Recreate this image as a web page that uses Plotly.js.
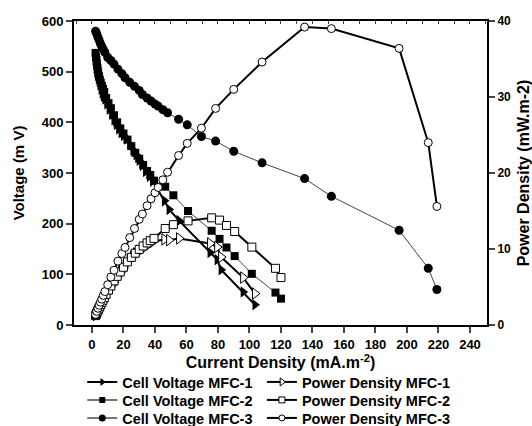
<!DOCTYPE html>
<html><head><meta charset="utf-8">
<script src="https://cdn.plot.ly/plotly-3.0.1.min.js"></script>
<style>html,body{margin:0;padding:0;background:#fff}#chart{width:532px;height:426px}</style>
</head><body><div id="chart"></div>
<script>
// MFC-1
const x1 = [2.5, 2.8, 3.1, 3.4, 3.8, 4.2, 4.7, 5.2, 5.8, 6.5, 7.2, 8.2, 9.5, 11, 12.5, 14, 15.5, 17, 18.5, 20, 22, 24, 26, 28, 30, 32, 34, 36.5, 38.5, 46, 49, 55.3, 75, 79.5, 82, 96, 103.5];
const v1 = [530, 522, 514, 506, 498, 490, 482, 474, 466, 458, 452, 446, 436, 426, 416, 405, 396, 387, 380, 374, 367, 357, 346, 336, 325, 315, 303, 293, 284, 245, 228, 206, 143, 129, 109, 65, 40];
const p1 = [1.33, 1.46, 1.59, 1.72, 1.89, 2.06, 2.27, 2.46, 2.7, 2.98, 3.25, 3.66, 4.14, 4.69, 5.2, 5.67, 6.14, 6.58, 7.03, 7.48, 8.07, 8.57, 9.0, 9.41, 9.75, 10.08, 10.3, 10.69, 10.93, 11.27, 11.17, 11.39, 10.73, 10.26, 8.94, 6.24, 4.14];
// MFC-2
const x2 = [2.3, 2.6, 2.9, 3.2, 3.6, 4.0, 4.5, 5.0, 5.6, 6.3, 7.0, 7.8, 9, 10.5, 12, 14, 16, 18, 20, 22.5, 25, 27.5, 30, 32.5, 35, 37, 39.4, 46.5, 51.7, 61, 76, 81, 85.4, 90.6, 101.5, 116.5, 120];
const v2 = [537, 528, 520, 512, 504, 496, 490, 484, 478, 472, 466, 460, 448, 438, 428, 414, 400, 388, 378, 366, 353, 340, 328, 316, 304, 296, 285, 273, 256, 225, 186, 170, 153, 136, 101, 64, 52];
const p2 = [1.24, 1.37, 1.51, 1.64, 1.81, 1.98, 2.2, 2.42, 2.68, 2.97, 3.26, 3.59, 4.03, 4.6, 5.14, 5.8, 6.4, 6.98, 7.6, 8.3, 8.9, 9.45, 9.95, 10.4, 10.8, 11.1, 11.4, 12.7, 13.2, 13.7, 14.1, 13.8, 13.1, 12.3, 10.25, 7.46, 6.24];
// MFC-3
const x3 = [2.3, 3, 3.8, 4.6, 5.4, 6.2, 7.2, 8.2, 10, 12, 14, 16.5, 19, 21, 24, 27, 30, 32, 35, 37.5, 40, 42, 45, 48, 55, 60.5, 69.5, 78.5, 90, 108, 135, 152, 195, 213.5, 219];
const v3 = [580, 575, 568, 562, 555, 550, 544, 538, 528, 522, 515, 505, 496, 488, 479, 471, 463, 455, 448, 442, 436, 432, 425, 419, 406, 395, 372, 363, 343, 320, 289, 254, 187, 112, 70];
const p3 = [1.4, 1.8, 2.2, 2.6, 3.0, 3.4, 3.9, 4.4, 5.3, 6.3, 7.2, 8.4, 9.4, 10.2, 11.5, 12.7, 13.9, 14.6, 15.7, 16.6, 17.4, 18.1, 19.1, 20.1, 22.3, 23.9, 25.9, 28.5, 31, 34.6, 39.2, 39, 36.4, 24, 15.6];

const names = ['Cell Voltage MFC-1','Power Density MFC-1','Cell Voltage MFC-2','Power Density MFC-2','Cell Voltage MFC-3','Power Density MFC-3'];
const xTicks = [0,20,40,60,80,100,120,140,160,180,200,220,240];

const styles = [
  {axis:'y',  sym:'triangle-right', size:10, lsize:7, fill:'#000', lw:2, lc:'#000'},
  {axis:'y2', sym:'triangle-right', size:10, lsize:7, fill:'#fff', lw:2, lc:'#000'},
  {axis:'y',  sym:'square',         size:8,  lsize:6, fill:'#000', lw:1, lc:'#444'},
  {axis:'y2', sym:'square',         size:8,  lsize:6, fill:'#fff', lw:2, lc:'#000'},
  {axis:'y',  sym:'circle',         size:9,  lsize:7, fill:'#000', lw:1, lc:'#444'},
  {axis:'y2', sym:'circle',         size:8,  lsize:6, fill:'#fff', lw:2, lc:'#000'},
];
const xs = [x1, x1, x2, x2, x3, x3];
const ys = [v1, p1, v2, p2, v3, p3];
const legendIds = ['legend','legend2','legend3','legend4','legend5','legend6'];

const data = [];
for (let i = 0; i < 6; i++) {
  const s = styles[i];
  data.push({x:xs[i], y:ys[i], name:names[i], type:'scatter', mode:'lines+markers', xaxis:'x', yaxis:s.axis,
    showlegend:false, line:{color:s.lc, width:s.lw},
    marker:{symbol:s.sym, size:s.size, color:s.fill, line:{width:s.fill==='#fff'?1:0, color:'#000'}}});
}
// legend-only entries (smaller symbols as in the reference legend)
for (let i = 0; i < 6; i++) {
  const s = styles[i];
  data.push({x:[null], y:[null], name:names[i], type:'scatter', mode:'lines+markers', xaxis:'x', yaxis:'y',
    showlegend:true, legend:legendIds[i], line:{color:(s.fill==='#000' && i>0)?'#777':'#000', width:2},
    marker:{symbol:s.sym, size:s.lsize, color:s.fill, line:{width:s.fill==='#fff'?1:0, color:'#000'}}});
}
// dummy trace for top mirror axis
data.push({x:[0], y:[0], xaxis:'x2', yaxis:'y', mode:'markers', marker:{opacity:0}, showlegend:false, hoverinfo:'skip'});

const F = 'Liberation Sans, Arial, sans-serif';
function leg(xl, yc){
  return {orientation:'h', x:xl, xanchor:'left', y:yc, yanchor:'middle',
    font:{family:F, size:14.5, weight:'bold'}, bgcolor:'rgba(0,0,0,0)'};
}
const col1 = 0.02, col2 = 0.455;
const row1 = -0.1875, row2 = -0.2467, row3 = -0.3059;
const layout = {
  width:532, height:426,
  margin:{l:74, r:45, t:21, b:101, autoexpand:false},
  paper_bgcolor:'#fff', plot_bgcolor:'#fff',
  font:{family:F, size:13, color:'#000', weight:'bold'},
  showlegend:true,
  xaxis:{range:[-11.4, 250.8], tickvals:xTicks, ticks:'outside', ticklen:6, tickwidth:2, showline:true, linewidth:2, linecolor:'#000',
    showgrid:false, zeroline:false, tickfont:{family:F, size:13, weight:'bold'}, automargin:false,
    title:{text:'Current Density (mA.m<sup>-2</sup>)', font:{family:F, size:16, weight:'bold'}, standoff:3}},
  xaxis2:{overlaying:'x', side:'top', range:[-11.4, 250.8], dtick:10, tick0:0, ticks:'inside', ticklen:3, tickwidth:1,
    showline:true, linewidth:2, linecolor:'#000', showticklabels:false, showgrid:false, zeroline:false},
  yaxis:{range:[0,600], dtick:100, ticks:'outside', ticklen:6, tickwidth:2, showline:true, linewidth:2, linecolor:'#000',
    showgrid:false, zeroline:false, tickfont:{family:F, size:13, weight:'bold'}, automargin:false,
    title:{text:'Voltage (m V)', font:{family:F, size:15, weight:'bold'}, standoff:13}},
  yaxis2:{overlaying:'y', side:'right', range:[0,40], dtick:10, ticks:'outside', ticklen:6, tickwidth:2, showline:true, linewidth:2, linecolor:'#000',
    showgrid:false, zeroline:false, tickfont:{family:F, size:12, weight:'bold'}, automargin:false,
    title:{text:'Power Density (mW.m-2)', font:{family:F, size:16, weight:'bold'}, standoff:10}},
  legend: leg(col1, row1),
  legend2: leg(col2, row1),
  legend3: leg(col1, row2),
  legend4: leg(col2, row2),
  legend5: leg(col1, row3),
  legend6: leg(col2, row3)
};
Plotly.newPlot('chart', data, layout, {staticPlot:true});
</script></body></html>
